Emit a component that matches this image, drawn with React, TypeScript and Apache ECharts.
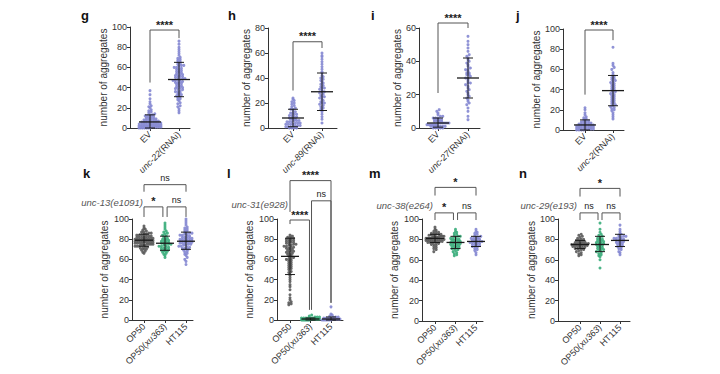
import React, { useEffect, useRef } from 'react';
import * as echarts from 'echarts';

const FONT = '"Liberation Sans", Arial, Helvetica, sans-serif';
const PURPLE = '#8487d2';
const GREEN = '#3aad7b';
const GREY = '#5a5a5a';

// ---------- categories & labels ----------
const panelLetters = ['g', 'h', 'i', 'j', 'k', 'l', 'm', 'n'];
const gCategories = ['EV', 'unc-22(RNAi)'];
const hCategories = ['EV', 'unc-89(RNAi)'];
const iCategories = ['EV', 'unc-27(RNAi)'];
const jCategories = ['EV', 'unc-2(RNAi)'];
const bottomCategories = ['OP50', 'OP50(xu363)', 'HT115'];
const strainLabels = ['unc-13(e1091)', 'unc-31(e928)', 'unc-38(e264)', 'unc-29(e193)'];
const yAxisName = 'number of aggregates';
const yMaxes = [100, 80, 60, 100, 100, 100, 100, 100];
const yInterval = 20;

// ---------- values ----------
const gEV = [0,0,0,0,0,0,0,1,1,1,1,1,1,2,2,2,2,2,2,3,3,3,3,3,3,4,4,4,4,4,5,5,5,5,5,6,6,6,6,7,7,7,7,8,8,8,9,9,9,10,10,11,11,12,12,13,13,14,15,16,17,18,20,21,22,24,26,29,33,37];
const gUnc22 = [15,17,19,21,22,24,25,27,28,29,30,31,32,33,33,34,35,36,36,37,38,39,39,40,40,41,42,42,43,44,44,45,45,46,46,47,47,48,48,49,49,50,50,51,51,52,52,53,53,54,55,55,56,56,57,58,58,59,60,60,61,62,62,63,64,65,66,67,68,69,70,72,74,76,78,80,83,86];
const hEV = [0,0,0,0,1,1,1,1,2,2,2,3,3,3,3,4,4,4,5,5,5,6,6,6,7,7,7,8,8,9,9,10,10,11,11,12,12,13,14,15,15,16,17,18,19,20,21,22,23,24];
const hUnc89 = [4,7,9,11,13,14,15,16,17,18,19,20,20,21,22,23,24,25,25,26,27,28,29,29,30,31,32,32,33,34,35,36,37,38,39,40,41,42,44,45,47,49,51,53,55,57,58,60];
const iEV = [0,0,0,0,0,1,1,1,1,1,1,1,2,2,2,2,2,2,3,3,3,3,3,3,4,4,4,4,5,5,5,5,6,6,6,7,7,8,9,10,11];
const iUnc27 = [5,7,10,12,14,15,16,17,18,19,20,21,22,23,24,25,26,27,27,28,29,30,30,31,32,32,33,33,34,35,35,36,37,38,39,40,41,42,43,44,46,48,50,52,55];
const jEV = [0,0,0,0,1,1,1,1,2,2,2,2,3,3,3,3,4,4,4,4,5,5,5,5,6,6,6,7,7,7,8,8,9,9,10,11,12,13,15,17,20,22];
const jUnc2 = [11,13,15,17,19,20,21,22,23,24,25,26,27,28,29,30,31,32,33,34,35,36,37,38,39,40,41,42,43,44,45,46,47,48,49,50,51,52,53,55,57,60,62,64,66,82];
const kOP50 = [66,67,68,69,70,70,71,71,72,72,73,73,73,74,74,74,75,75,75,75,76,76,76,76,77,77,77,77,77,78,78,78,78,78,79,79,79,79,79,79,80,80,80,80,80,81,81,81,81,82,82,82,82,83,83,83,84,84,84,85,85,86,86,87,87,88,89,90,91,93];
const kXu363 = [62,64,65,66,67,68,68,69,69,70,70,71,71,72,72,73,73,74,74,75,75,76,76,77,77,78,78,79,79,80,80,81,82,83,84,85,86,87,88,90,92,94,96];
const kHT115 = [55,58,60,62,64,65,66,67,68,69,70,70,71,71,72,72,73,73,74,74,75,75,75,76,76,76,77,77,77,78,78,78,79,79,79,80,80,80,81,81,81,82,82,83,83,84,84,85,85,86,86,87,88,89,90,91,92,94,96,98,100];
const lOP50 = [15,16,17,18,20,22,25,30,33,35,38,40,42,44,45,47,48,50,51,52,53,54,55,56,57,58,59,60,60,61,62,63,64,65,65,66,67,67,68,68,69,70,70,71,71,72,72,73,73,74,74,75,75,76,76,77,77,78,78,79,79,80,80,81,81,82,82,83,84];
const lXu363 = [0,0,0,0,0,0,0,0,1,1,1,1,1,1,1,1,1,2,2,2,2,2,2,3,3,3,4,5];
const lHT115 = [0,0,0,0,0,0,0,1,1,1,1,1,1,2,2,2,2,3,3,3,4,5,6,13];
const mOP50 = [68,70,71,72,73,74,75,75,76,76,77,77,77,78,78,78,78,79,79,79,79,79,80,80,80,80,80,80,81,81,81,81,81,82,82,82,82,82,83,83,83,83,84,84,84,85,85,85,86,86,87,87,88,89,90,92];
const mXu363 = [64,65,66,67,68,69,70,71,71,72,72,73,73,74,74,75,75,76,76,76,77,77,77,78,78,79,79,80,80,81,81,82,83,83,84,85,86,87,88,90];
const mHT115 = [65,67,69,70,71,72,73,73,74,74,75,75,76,76,77,77,77,78,78,78,79,79,80,80,81,81,82,82,83,84,85,86,87,88,90];
const nOP50 = [64,65,66,67,68,69,70,70,71,71,72,72,72,73,73,73,74,74,74,74,75,75,75,75,76,76,76,76,77,77,77,78,78,79,79,80,80,81,82,83,84,85];
const nXu363 = [52,60,63,64,65,66,67,68,69,70,70,71,72,72,73,74,74,75,75,76,76,77,77,78,78,79,80,80,81,82,83,84,85,87,90,96];
const nHT115 = [65,67,68,70,71,72,73,74,74,75,76,76,77,77,78,78,79,79,80,80,81,81,82,82,83,83,84,85,86,88,90,94];

// mean and SD limits
const gMean = [6, 48];   const gLow = [0, 31];   const gHigh = [13, 65];
const hMean = [8, 29];   const hLow = [1, 14];   const hHigh = [15, 44];
const iMean = [3, 30];   const iLow = [0.5, 18]; const iHigh = [6, 42];
const jMean = [5, 39];   const jLow = [0, 24];   const jHigh = [10, 54];
const kMean = [79, 76, 78]; const kLow = [73, 69, 70]; const kHigh = [85, 83, 87];
const lMean = [63, 1, 1];   const lLow = [45, 0, 0];   const lHigh = [81, 2, 3];
const mMean = [81, 77, 78]; const mLow = [77, 71, 73]; const mHigh = [85, 83, 83];
const nMean = [75, 75, 79]; const nLow = [71, 68, 73]; const nHigh = [79, 83, 85];

// significance brackets: [from, to, level, legFrom, legTo]
const gBrackets = [[0, 1, 97, 45, 89]];       const gBracketLabels = ['****'];
const hBrackets = [[0, 1, 69, 30, 64]];       const hBracketLabels = ['****'];
const iBrackets = [[0, 1, 63, 21, 60]];       const iBracketLabels = ['****'];
const jBrackets = [[0, 1, 99, 35, 89]];       const jBracketLabels = ['****'];
const kBrackets = [[0, 2, 134, 127, 127], [0, 0.9, 112, 102, 102], [1.1, 2, 112, 102, 102]];
const kBracketLabels = ['ns', '*', 'ns'];
const lBrackets = [[0, 2, 138, 107, 17], [1.05, 2, 118, 10, 17], [0, 0.95, 99, 95, 10]];
const lBracketLabels = ['****', 'ns', '****'];
const mBrackets = [[0, 2, 131, 123, 123], [0, 0.9, 106, 99, 99], [1.1, 2, 106, 99, 99]];
const mBracketLabels = ['*', '*', 'ns'];
const nBrackets = [[0, 2, 130, 122, 122], [0, 0.9, 106, 99, 99], [1.1, 2, 106, 99, 99]];
const nBracketLabels = ['*', 'ns', 'ns'];

// ---------- layout (pixels) ----------
const layout = [
  { axisX: 130, top: 27, bottom: 128, cats: [150, 179], end: 190, nameGap: 22, letter: [85, 17] },
  { axisX: 268, top: 28, bottom: 128, cats: [293, 322], end: 337, nameGap: 12, letter: [232, 17] },
  { axisX: 419, top: 28, bottom: 128, cats: [438, 468], end: 480, nameGap: 17, letter: [375, 17] },
  { axisX: 563, top: 29, bottom: 130, cats: [585, 613], end: 624, nameGap: 19, letter: [520, 17] },
  { axisX: 132, top: 219, bottom: 320, cats: [144, 165, 186], end: 193, nameGap: 23, letter: [87, 175], strain: [143, 202] },
  { axisX: 277, top: 219, bottom: 320, cats: [290, 310, 331], end: 343, nameGap: 23, letter: [231, 175], strain: [288, 204] },
  { axisX: 422, top: 219, bottom: 321, cats: [435, 455, 476], end: 483, nameGap: 23, letter: [373, 175], strain: [433, 205] },
  { axisX: 558, top: 219, bottom: 321, cats: [580, 600, 620], end: 630, nameGap: 17, letter: [523, 175], strain: [577, 205] },
];

const panels = [
  { cats: gCategories, groups: [gEV, gUnc22], colors: [PURPLE, PURPLE], mean: gMean, low: gLow, high: gHigh, br: gBrackets, brl: gBracketLabels },
  { cats: hCategories, groups: [hEV, hUnc89], colors: [PURPLE, PURPLE], mean: hMean, low: hLow, high: hHigh, br: hBrackets, brl: hBracketLabels },
  { cats: iCategories, groups: [iEV, iUnc27], colors: [PURPLE, PURPLE], mean: iMean, low: iLow, high: iHigh, br: iBrackets, brl: iBracketLabels },
  { cats: jCategories, groups: [jEV, jUnc2], colors: [PURPLE, PURPLE], mean: jMean, low: jLow, high: jHigh, br: jBrackets, brl: jBracketLabels },
  { cats: bottomCategories, groups: [kOP50, kXu363, kHT115], colors: [GREY, GREEN, PURPLE], mean: kMean, low: kLow, high: kHigh, br: kBrackets, brl: kBracketLabels },
  { cats: bottomCategories, groups: [lOP50, lXu363, lHT115], colors: [GREY, GREEN, PURPLE], mean: lMean, low: lLow, high: lHigh, br: lBrackets, brl: lBracketLabels },
  { cats: bottomCategories, groups: [mOP50, mXu363, mHT115], colors: [GREY, GREEN, PURPLE], mean: mMean, low: mLow, high: mHigh, br: mBrackets, brl: mBracketLabels },
  { cats: bottomCategories, groups: [nOP50, nXu363, nHT115], colors: [GREY, GREEN, PURPLE], mean: nMean, low: nLow, high: nHigh, br: nBrackets, brl: nBracketLabels },
];

// GraphPad-like dot layout: values binned into rows, each row spread symmetrically
function dotLayout(values: number[], pxPerUnit: number, binH: number, gap: number, maxHalf: number) {
  const rows = new Map<number, number[]>();
  values.forEach((v) => {
    const r = Math.round((v * pxPerUnit) / binH);
    if (!rows.has(r)) rows.set(r, []);
    rows.get(r)!.push(v);
  });
  const out: [number, number][] = [];
  rows.forEach((vals, r) => {
    const k = vals.length;
    const sp = k > 1 ? Math.min(gap, (2 * maxHalf) / (k - 1)) : 0;
    const shift = r % 2 && k > 1 && k * gap < 2 * maxHalf ? sp / 2 * 0 : 0;
    vals.forEach((v, j) => out.push([(j - (k - 1) / 2) * sp + shift, v]));
  });
  return out;
}

function labelFormatter(s: string) {
  if (s.includes('(RNAi)')) {
    const gene = s.replace('(RNAi)', '');
    return `{i|${gene}}{n|(RNAi)}`;
  }
  if (s.includes('(xu363)')) return `{n|OP50(}{i|xu363}{n|)}`;
  return `{n|${s}}`;
}

function buildOption() {
  const grid: any[] = [];
  const xAxis: any[] = [];
  const yAxis: any[] = [];
  const series: any[] = [];
  const title: any[] = [];
  const graphic: any[] = [];

  panels.forEach((p, pi) => {
    const L = layout[pi];
    const n = p.cats.length;
    const pxPerCat = (L.cats[n - 1] - L.cats[0]) / (n - 1);
    const height = L.bottom - L.top;
    const pxPerUnit = height / yMaxes[pi];
    const top = pi < 4;
    grid.push({ left: L.axisX, top: L.top, width: L.end - L.axisX, height, outerBoundsMode: 'none', containLabel: false });
    const idx = p.cats.map((_, i) => i);
    xAxis.push({
      type: 'value', gridIndex: pi,
      min: -(L.cats[0] - L.axisX) / pxPerCat,
      max: n - 1 + (L.end - L.cats[n - 1]) / pxPerCat,
      splitLine: { show: false },
      axisLine: { show: true, onZero: false, lineStyle: { color: '#333', width: 1 } },
      axisTick: { show: true, customValues: idx, length: 3, lineStyle: { color: '#333' } },
      axisLabel: {
        customValues: idx, rotate: 45, margin: 5, fontSize: 9, color: '#333', fontFamily: FONT,
        formatter: (v: number) => labelFormatter(p.cats[Math.round(v)] ?? ''),
        rich: {
          i: { fontStyle: 'italic', fontSize: 9, color: '#333', fontFamily: FONT },
          n: { fontSize: 9, color: '#333', fontFamily: FONT },
        },
      },
    });
    yAxis.push({
      type: 'value', gridIndex: pi, min: 0, max: yMaxes[pi], interval: yInterval,
      name: yAxisName, nameLocation: 'middle', nameGap: L.nameGap,
      nameTextStyle: { fontSize: 10, color: '#333', fontFamily: FONT },
      splitLine: { show: false },
      axisLine: { show: true, onZero: false, lineStyle: { color: '#333', width: 1 } },
      axisTick: { show: true, length: 3, lineStyle: { color: '#333' } },
      axisLabel: { fontSize: 9, color: '#333', margin: 3, fontFamily: FONT },
    });

    // dots
    p.groups.forEach((vals, gi) => {
      const pts = dotLayout(vals, pxPerUnit, 2.2, 2.4, top ? 11 : 9).map(([off, v]) => [gi + off / pxPerCat, v]);
      series.push({
        type: 'scatter', xAxisIndex: pi, yAxisIndex: pi, data: pts,
        symbol: 'circle', symbolSize: 3, silent: true, z: 2,
        itemStyle: { color: p.colors[gi], opacity: 0.9 },
      });
    });

    // mean ± SD
    const hw = top ? 11 : 9;
    const cw = 5;
    series.push({
      type: 'custom', xAxisIndex: pi, yAxisIndex: pi, z: 5, silent: true, clip: false,
      data: p.mean.map((m, i) => [i, m, p.low[i], p.high[i]]),
      renderItem: (_params: any, api: any) => {
        const x = api.value(0);
        const pm = api.coord([x, api.value(1)]);
        const pl = api.coord([x, api.value(2)]);
        const ph = api.coord([x, api.value(3)]);
        const st = { stroke: '#1a1a1a', lineWidth: 1 };
        return {
          type: 'group',
          children: [
            { type: 'line', shape: { x1: pm[0] - hw, y1: pm[1], x2: pm[0] + hw, y2: pm[1] }, style: { stroke: '#1a1a1a', lineWidth: 1.3 } },
            { type: 'line', shape: { x1: pl[0], y1: pl[1], x2: ph[0], y2: ph[1] }, style: st },
            { type: 'line', shape: { x1: pl[0] - cw, y1: pl[1], x2: pl[0] + cw, y2: pl[1] }, style: st },
            { type: 'line', shape: { x1: ph[0] - cw, y1: ph[1], x2: ph[0] + cw, y2: ph[1] }, style: st },
          ],
        };
      },
    });

    // significance brackets
    series.push({
      type: 'custom', xAxisIndex: pi, yAxisIndex: pi, z: 6, silent: true, clip: false,
      data: p.br,
      renderItem: (params: any, api: any) => {
        const a = api.value(0), b = api.value(1), lev = api.value(2);
        const pA = api.coord([a, api.value(3)]);
        const pAl = api.coord([a, lev]);
        const pBl = api.coord([b, lev]);
        const pB = api.coord([b, api.value(4)]);
        const lab = p.brl[params.dataIndex];
        const isStar = lab.includes('*');
        return {
          type: 'group',
          children: [
            { type: 'polyline', shape: { points: [pA, pAl, pBl, pB] }, style: { stroke: '#555', lineWidth: 1, fill: 'none' } },
            {
              type: 'text', x: (pAl[0] + pBl[0]) / 2, y: pAl[1] - (isStar ? 0 : 2),
              style: {
                text: lab, fontSize: isStar ? 11 : 9, fontFamily: FONT, fill: '#222',
                fontWeight: isStar ? 'bold' : 'normal',
                align: 'center', verticalAlign: 'bottom',
              },
            },
          ],
        };
      },
    });

    title.push({
      text: panelLetters[pi], left: L.letter[0] - 4, top: L.letter[1] - 8, padding: 0,
      textStyle: { fontSize: 13, fontWeight: 'bold', color: '#111', fontFamily: FONT },
    });
    if (!top) {
      const s = (L as any).strain;
      graphic.push({
        type: 'text', x: s[0], y: s[1],
        style: {
          text: strainLabels[pi - 4], fontSize: 9.5, fontStyle: 'italic', fill: '#555',
          fontFamily: FONT, align: 'right', verticalAlign: 'middle',
        },
      });
    }
  });

  return {
    animation: false,
    backgroundColor: '#ffffff',
    textStyle: { fontFamily: FONT },
    title, grid, xAxis, yAxis, series, graphic,
  };
}

export default function App() {
  const ref = useRef<HTMLDivElement>(null);
  useEffect(() => {
    document.body.style.margin = '0';
    if (!ref.current) return;
    const chart = echarts.init(ref.current, undefined, { renderer: 'svg', width: 720, height: 374 });
    chart.setOption(buildOption() as any);
    return () => chart.dispose();
  }, []);
  return <div ref={ref} style={{ width: 720, height: 374 }} />;
}
